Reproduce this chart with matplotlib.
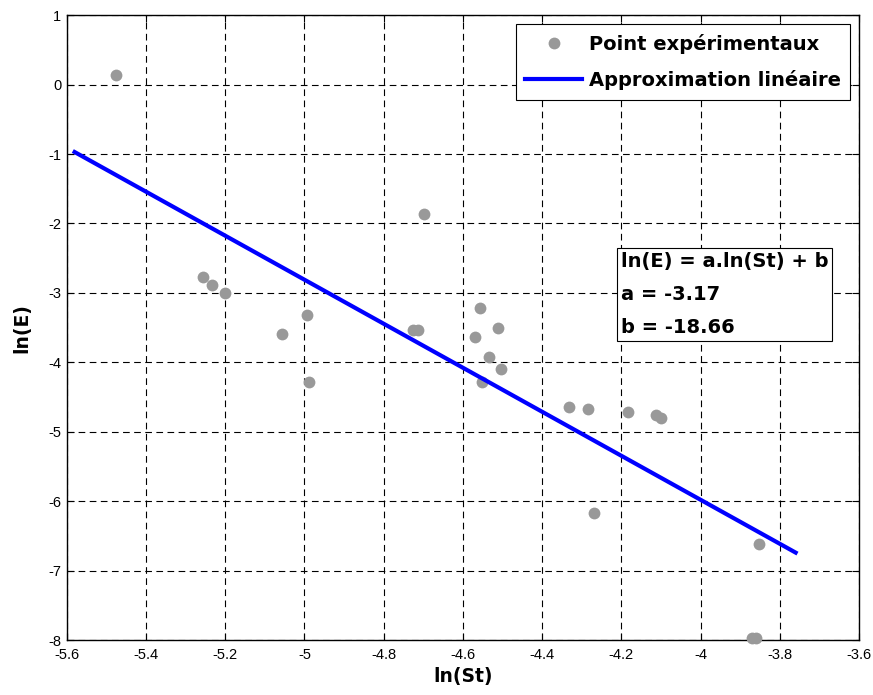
import numpy as np
import matplotlib
matplotlib.use('Agg')
import matplotlib.pyplot as plt
from matplotlib.ticker import FuncFormatter

plt.rcParams['axes.unicode_minus'] = False

# experimental points (ln(St), ln(E))
LN_ST = [-5.476, -5.255, -5.234, -5.200, -5.057, -4.994, -4.989,
         -4.725, -4.712, -4.698, -4.569, -4.556, -4.551, -4.533,
         -4.512, -4.505, -4.331, -4.284, -4.270, -4.182, -4.112,
         -4.100, -3.853, -3.870, -3.860]
LN_E = [0.135, -2.771, -2.890, -3.006, -3.592, -3.318, -4.288,
        -3.534, -3.534, -1.858, -3.640, -3.217, -4.288, -3.923,
        -3.510, -4.096, -4.638, -4.673, -6.171, -4.711, -4.764,
        -4.807, -6.613, -7.975, -7.975]

# linear fit ln(E) = a.ln(St) + b
A, B = -3.17, -18.66
X_FIT = np.linspace(-5.58, -3.76, 50)
Y_FIT = A * X_FIT + B

fig = plt.figure(figsize=(8.73, 6.95), dpi=100)
ax = fig.add_axes([0.0764, 0.0791, 0.9076, 0.8991])

ax.plot(LN_ST, LN_E, 'o', color='#999999', markersize=8.5, markeredgewidth=0,
        label='Point expérimentaux', clip_on=False, zorder=3)
ax.plot(X_FIT, Y_FIT, '-', color='#0000ff', linewidth=3.0,
        label='Approximation linéaire', zorder=4)

ax.set_xlim(-5.6, -3.6)
ax.set_ylim(-8, 1)
ax.set_xticks(np.arange(-5.6, -3.59, 0.2))
ax.set_yticks(np.arange(-8, 1.01, 1))
ax.xaxis.set_major_formatter(FuncFormatter(lambda v, p: f'{round(v, 1):g}'))
ax.yaxis.set_major_formatter(FuncFormatter(lambda v, p: f'{round(v):g}'))
ax.tick_params(direction='in', length=5, width=0.8, top=True, right=True,
               labelsize=10.5)
ax.tick_params(axis='x', pad=6)
ax.tick_params(axis='y', pad=4)
for lab in ax.get_xticklabels() + ax.get_yticklabels():
    lab.set_family('Liberation Sans')
ax.grid(True, color='black', linestyle=(0, (6, 4)), linewidth=0.8)
for s in ax.spines.values():
    s.set_linewidth(1.0)

ax.set_xlabel('ln(St)', fontsize=13.5, fontweight='bold', family='DejaVu Sans', labelpad=3)
ax.set_ylabel('ln(E)', fontsize=13.5, fontweight='bold', family='DejaVu Sans', labelpad=12)

leg = ax.legend(loc='upper right', prop={'family': 'DejaVu Sans', 'weight': 'bold', 'size': 14},
                frameon=True, fancybox=False, edgecolor='black', framealpha=1,
                borderaxespad=0.45, handlelength=2.9, borderpad=0.5, labelspacing=0.85,
                handletextpad=0.35)
leg.get_frame().set_linewidth(0.8)

ax.text(0.699, 0.621, 'ln(E) = a.ln(St) + b\na = -3.17\nb = -18.66',
        transform=ax.transAxes, ha='left', va='top', fontsize=14,
        fontweight='bold', family='DejaVu Sans', linespacing=1.95,
        bbox=dict(boxstyle='square,pad=0.2', facecolor='white', edgecolor='black', linewidth=0.8),
        zorder=5)

fig.savefig('out.png', dpi=100)
